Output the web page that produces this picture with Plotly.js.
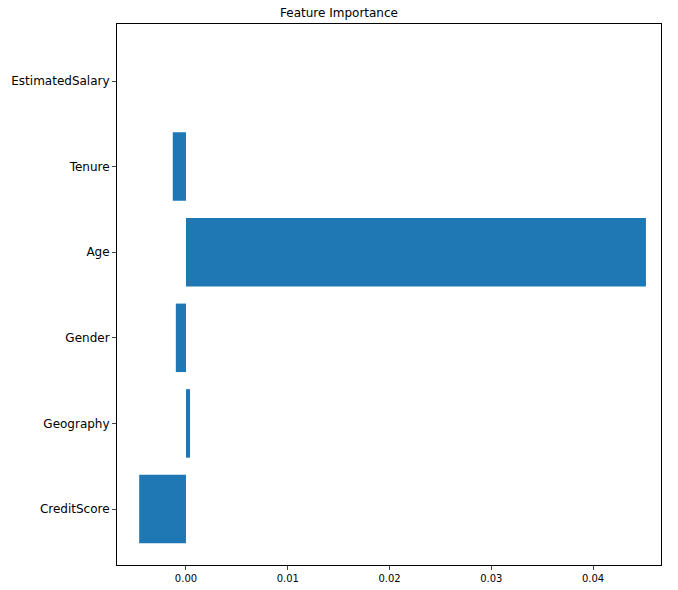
<!DOCTYPE html>
<html>
<head>
<script src="https://cdn.plot.ly/plotly-3.0.1.min.js"></script>
<style>body{margin:0;background:#fff}</style>
</head>
<body>
<div id="chart" style="width:678px;height:590px"></div>
<script>
// feature importance values
var features = ['CreditScore', 'Geography', 'Gender', 'Age', 'Tenure', 'EstimatedSalary'];
var importance = [-0.0046, 0.0004, -0.0010, 0.0452, -0.0013, 0.0];
var tickvals = [0, 0.01, 0.02, 0.03, 0.04];
var ticktext = ['0.00', '0.01', '0.02', '0.03', '0.04'];

var plot_data = [{
    x: importance,
    y: [0, 1, 2, 3, 4, 5],
    type: 'bar',
    orientation: 'h',
    width: 0.8,
    marker: {color: '#1f77b4'}
}];

var layout = {
    width: 678,
    height: 590,
    margin: {l: 117, r: 17, t: 24, b: 25},
    paper_bgcolor: 'white',
    plot_bgcolor: 'white',
    showlegend: false,
    font: {family: 'DejaVu Sans', color: 'black'},
    title: {text: 'Feature Importance', font: {size: 12}, x: 0.5, xanchor: 'center', y: 0.985, yanchor: 'top'},
    xaxis: {
        range: [-0.00678, 0.04668],
        tickvals: tickvals,
        ticktext: ticktext,
        ticks: 'outside', ticklen: 4, tickfont: {size: 10},
        showgrid: false, zeroline: false,
        showline: true, mirror: true, linecolor: 'black', linewidth: 1
    },
    yaxis: {
        range: [-0.654, 5.666],
        tickvals: [0, 1, 2, 3, 4, 5],
        ticktext: features,
        ticks: 'outside', ticklen: 4, tickfont: {size: 12},
        showgrid: false, zeroline: false,
        showline: true, mirror: true, linecolor: 'black', linewidth: 1
    }
};

Plotly.newPlot(document.getElementById('chart'), plot_data, layout, {staticPlot: true});
</script>
</body>
</html>
